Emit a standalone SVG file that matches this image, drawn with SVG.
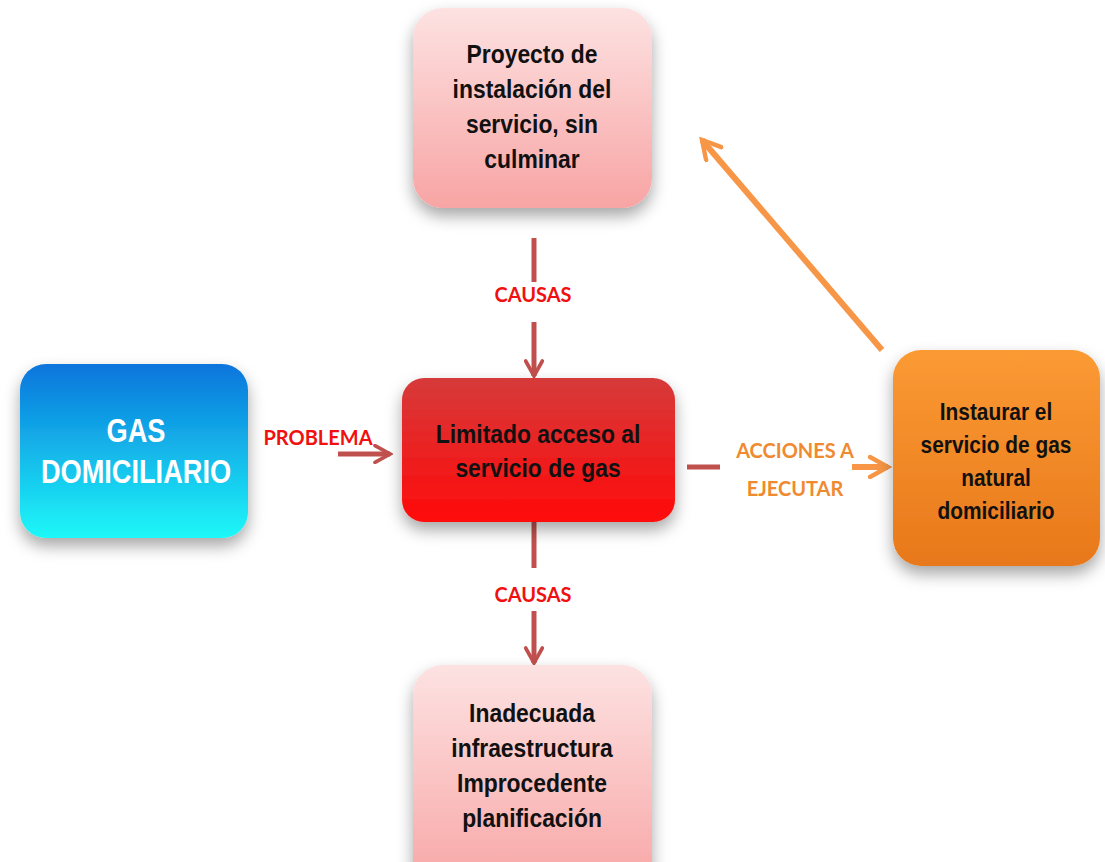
<svg xmlns="http://www.w3.org/2000/svg" width="1105" height="862" viewBox="0 0 1105 862">
<style>
.bt{font-family:"Liberation Sans",Arial,sans-serif;font-weight:bold;font-size:26px;fill:#111;text-anchor:middle}
.wt{font-family:"Liberation Sans",Arial,sans-serif;font-weight:bold;font-size:34px;fill:#fff;text-anchor:middle}
.lb{font-family:Lato,"Open Sans",sans-serif;font-weight:bold;font-size:20px;text-anchor:middle}
.red{fill:#f01010}
.org{fill:#f08a30}
.rc{stroke:#c0504d;stroke-width:5;fill:none}
.oc{stroke:#f79646;stroke-width:6;fill:none}
</style>
<defs>
<linearGradient id="gPink" x1="0" y1="0" x2="0" y2="1"><stop offset="0" stop-color="#fde2e2"/><stop offset="1" stop-color="#f8a4a4"/></linearGradient>
<linearGradient id="gBlue" x1="0" y1="0" x2="0" y2="1"><stop offset="0" stop-color="#0a74dc"/><stop offset="1" stop-color="#1ef8f8"/></linearGradient>
<linearGradient id="gRed" x1="0" y1="0" x2="0" y2="1"><stop offset="0" stop-color="#d63a3a"/><stop offset="1" stop-color="#ff0a0a"/></linearGradient>
<linearGradient id="gOrg" x1="0" y1="0" x2="0" y2="1"><stop offset="0" stop-color="#fb9a34"/><stop offset="1" stop-color="#e8781a"/></linearGradient>
<filter id="sh" x="-20%" y="-20%" width="140%" height="150%"><feDropShadow dx="0" dy="8" stdDeviation="8" flood-color="#000" flood-opacity="0.35"/></filter>
<marker id="ar" viewBox="0 0 12 12" refX="10" refY="6" markerWidth="4" markerHeight="4" orient="auto" markerUnits="strokeWidth"><path d="M1,1 L10,6 L1,11" fill="none" stroke="#c0504d" stroke-width="2.2" stroke-linecap="round"/></marker>
<marker id="ao" viewBox="0 0 12 12" refX="10" refY="6" markerWidth="4" markerHeight="4" orient="auto" markerUnits="strokeWidth"><path d="M1,1 L10,6 L1,11" fill="none" stroke="#f79646" stroke-width="2.2" stroke-linecap="round"/></marker>
</defs>
<rect width="1105" height="862" fill="#fff"/>
<g id="connectors">
<line class="rc" x1="534" y1="238" x2="534" y2="282"/>
<line class="rc" x1="534" y1="322" x2="534" y2="376" marker-end="url(#ar)"/>
<line class="rc" x1="534" y1="522" x2="534" y2="568"/>
<line class="rc" x1="534" y1="611" x2="534" y2="663" marker-end="url(#ar)"/>
<line class="rc" x1="338" y1="454" x2="390" y2="454" marker-end="url(#ar)"/>
<line class="rc" x1="687" y1="467" x2="720" y2="467"/>
<line class="oc" x1="852" y1="467" x2="888" y2="467" marker-end="url(#ao)"/>
<line class="oc" x1="882" y1="350" x2="702" y2="140" marker-end="url(#ao)"/>
<text class="lb red" x="533" y="302">CAUSAS</text>
<text class="lb red" x="533" y="602">CAUSAS</text>
<text class="lb red" x="318" y="445">PROBLEMA</text>
<text class="lb org" x="795" y="458">ACCIONES A</text>
<text class="lb org" x="795" y="496">EJECUTAR</text>
</g>
<g id="n-proyecto">
<rect x="413" y="8" width="239" height="200" rx="30" fill="url(#gPink)" filter="url(#sh)"/>
<g transform="translate(532,0) scale(0.88,1)">
<text class="bt" x="0" y="63">Proyecto de</text>
<text class="bt" x="0" y="98">instalación del</text>
<text class="bt" x="0" y="133">servicio, sin</text>
<text class="bt" x="0" y="168">culminar</text>
</g>
</g>
<g id="n-gas">
<rect x="20" y="364" width="228" height="174" rx="26" fill="url(#gBlue)" filter="url(#sh)"/>
<g transform="translate(136,0) scale(0.8,1)">
<text class="wt" x="0" y="442">GAS</text>
<text class="wt" x="0" y="483">DOMICILIARIO</text>
</g>
</g>
<g id="n-limitado">
<rect x="402" y="378" width="273" height="144" rx="22" fill="url(#gRed)" filter="url(#sh)"/>
<g transform="translate(538,0) scale(0.88,1)">
<text class="bt" x="0" y="443">Limitado acceso al</text>
<text class="bt" x="0" y="477">servicio de gas</text>
</g>
</g>
<g id="n-instaurar">
<rect x="893" y="350" width="207" height="216" rx="28" fill="url(#gOrg)" filter="url(#sh)"/>
<g transform="translate(996,0) scale(0.87,1)">
<text class="bt" x="0" y="420" style="font-size:24px">Instaurar el</text>
<text class="bt" x="0" y="453" style="font-size:24px">servicio de gas</text>
<text class="bt" x="0" y="486" style="font-size:24px">natural</text>
<text class="bt" x="0" y="519" style="font-size:24px">domiciliario</text>
</g>
</g>
<g id="n-inadecuada">
<rect x="413" y="665" width="239" height="230" rx="30" fill="url(#gPink)" filter="url(#sh)"/>
<g transform="translate(532,0) scale(0.88,1)">
<text class="bt" x="0" y="722">Inadecuada</text>
<text class="bt" x="0" y="757">infraestructura</text>
<text class="bt" x="0" y="792">Improcedente</text>
<text class="bt" x="0" y="827">planificación</text>
</g>
</g>
</svg>
